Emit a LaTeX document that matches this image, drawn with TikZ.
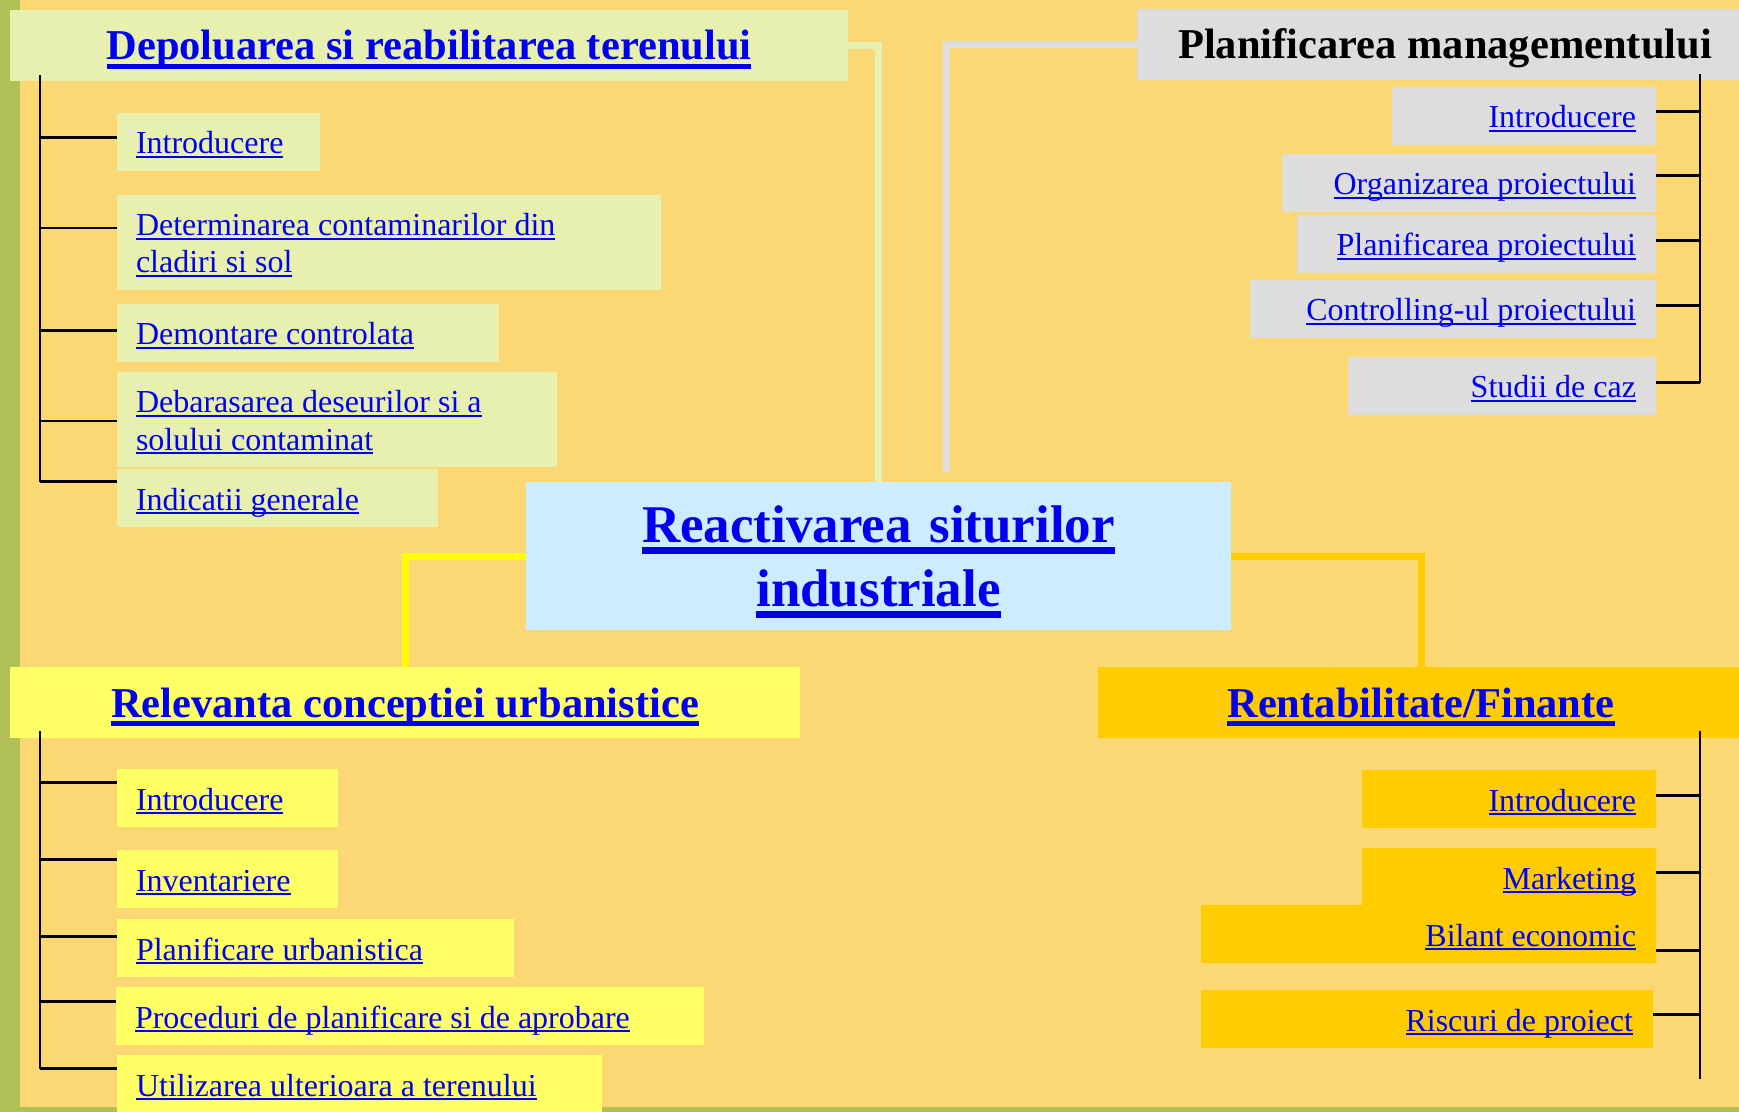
\documentclass[tikz,border=0pt]{standalone}
\usepackage{fontspec}
\setmainfont{Liberation Serif}
\usepackage{xcolor}

\definecolor{slidebg}{HTML}{FCD874}
\definecolor{slidebar}{HTML}{B0C054}
\definecolor{depfill}{HTML}{E8F0B0}
\definecolor{planfill}{HTML}{DDDDDD}
\definecolor{centerfill}{HTML}{CCECFF}
\definecolor{relfill}{HTML}{FFFF66}
\definecolor{relline}{HTML}{FFFF00}
\definecolor{rentfill}{HTML}{FFCC00}
\definecolor{linkblue}{HTML}{0000EE}

\newcommand{\lnk}[1]{\leavevmode\setbox0=\hbox{\spaceskip=0.25em\relax #1}\rlap{\rule[-0.125em]{\wd0}{0.07em}}\box0}
\newcommand{\blnk}[1]{\leavevmode\setbox0=\hbox{#1}\rlap{\rule[-0.22em]{\wd0}{0.12em}}\box0}

\begin{document}
\begin{tikzpicture}[x=0.5pt, y=-0.5pt,
    every node/.style={
    rectangle,
    inner sep=0pt,
    outer sep=0pt,
    text=linkblue
},
    title/.style={font=\fontsize{21.25}{25}\selectfont\bfseries, text height=25pt, text depth=10.5pt, anchor=base west},
    leaf/.style={font=\fontsize{16}{18.5}\selectfont, text height=20.5pt, text depth=8.5pt},
    leafl/.style={leaf, anchor=base west, align=left, inner xsep=9.5pt, text width=#1},
    leafr/.style={leaf, anchor=base east, align=right, inner xsep=10pt, text width=#1},
    branch/.style={line width=1.1pt, black},
    wire/.style={line width=3.5pt}
]

    \useasboundingbox (0,0) rectangle (1739,1112);
    \fill[slidebg] (0,0) rectangle (1739,1112);
    \fill[slidebar] (0,0) rectangle (20,1112);
    \fill[slidebar] (0,1107) rectangle (1739,1112);



    \node (center) [fill=centerfill, anchor=base west, text width=352.5pt, align=center,
        font=\fontsize{26.5}{32}\selectfont\bfseries, text height=30pt, text depth=44pt] at (526, 542)
    {
        \blnk{Reactivarea siturilor}\\\blnk{industriale}
    };



    \node (dep_title) [title, fill=depfill, minimum width=419pt] at (10, 60)
    {
        \blnk{Depoluarea si reabilitarea terenului}
    };

    \node (dep_intro) [leafl=82.5pt, fill=depfill] at (117, 154)
    {
        \lnk{Introducere}
    };

    \node (dep_contam) [leafl=253pt, fill=depfill, text depth=27pt] at (117, 236)
    {
        \lnk{Determinarea contaminarilor din}\\\lnk{cladiri si sol}
    };

    \node (dep_demont) [leafl=172pt, fill=depfill] at (117, 345)
    {
        \lnk{Demontare controlata}
    };

    \node (dep_debar) [leafl=201pt, fill=depfill, text depth=27pt] at (117, 413)
    {
        \lnk{Debarasarea deseurilor si a}\\\lnk{solului contaminat}
    };

    \node (dep_indic) [leafl=141.5pt, fill=depfill] at (117, 510)
    {
        \lnk{Indicatii generale}
    };



    \node (plan_title) [title, fill=planfill, minimum width=308pt, text=black] at (1137, 59)
    {
        Planificarea managementului
    };

    \node (plan_intro) [leafr=112pt, fill=planfill] at (1656, 128)
    {
        \lnk{Introducere}
    };

    \node (plan_org) [leafr=167pt, fill=planfill] at (1656, 195)
    {
        \lnk{Organizarea proiectului}
    };

    \node (plan_plan) [leafr=159.5pt, fill=planfill] at (1656, 256)
    {
        \lnk{Planificarea proiectului}
    };

    \node (plan_ctrl) [leafr=183pt, fill=planfill] at (1656, 321)
    {
        \lnk{Controlling-ul proiectului}
    };

    \node (plan_caz) [leafr=134pt, fill=planfill] at (1656, 398)
    {
        \lnk{Studii de caz}
    };



    \node (rel_title) [title, fill=relfill, minimum width=395pt] at (10, 717)
    {
        \blnk{Relevanta conceptiei urbanistice}
    };

    \node (rel_intro) [leafl=91.5pt, fill=relfill] at (117, 810)
    {
        \lnk{Introducere}
    };

    \node (rel_invent) [leafl=91.5pt, fill=relfill] at (117, 891)
    {
        \lnk{Inventariere}
    };

    \node (rel_urb) [leafl=179.5pt, fill=relfill] at (117, 960)
    {
        \lnk{Planificare urbanistica}
    };

    \node (rel_proc) [leafl=275pt, fill=relfill] at (116, 1028)
    {
        \lnk{Proceduri de planificare si de aprobare}
    };

    \node (rel_util) [leafl=223.5pt, fill=relfill] at (117, 1096)
    {
        \lnk{Utilizarea ulterioara a terenului}
    };



    \node (rent_title) [title, fill=rentfill, minimum width=323pt] at (1098, 717)
    {
        \blnk{Rentabilitate/Finante}
    };

    \node (rent_intro) [leafr=127pt, fill=rentfill] at (1656, 811)
    {
        \lnk{Introducere}
    };

    \node (rent_mark) [leafr=127pt, fill=rentfill] at (1656, 889)
    {
        \lnk{Marketing}
    };

    \node (rent_bilant) [leafr=207.5pt, fill=rentfill] at (1656, 946)
    {
        \lnk{Bilant economic}
    };

    \node (rent_risc) [leafr=206pt, fill=rentfill] at (1653, 1031)
    {
        \lnk{Riscuri de proiect}
    };


    \draw[wire, depfill] (dep_title.east) -| (center.north);
    \draw[wire, planfill, shorten >=5pt] (plan_title.west) -| ([xshift=33.75pt]center.north);
    \draw[wire, relline] (center.west) -| (rel_title.north);
    \draw[wire, rentfill] (center.east) -| (rent_title.north);


    \coordinate (dep_end) at (40, 482);
    \coordinate (plan_end) at (1700, 383);
    \coordinate (rel_end) at (40, 1069);
    \coordinate (rent_end) at (1700, 1079);

    \draw[branch] ([yshift=3pt]dep_title.south -| dep_end) -- (dep_end);
    \draw[branch] ([yshift=3pt]plan_title.south -| plan_end) -- (plan_end);
    \draw[branch] ([yshift=3.5pt]rel_title.south -| rel_end) -- (rel_end);
    \draw[branch] ([yshift=3.5pt]rent_title.south -| rent_end) -- (rent_end);

    \foreach \n/\dy in {dep_intro/2.25, dep_contam/7.25, dep_demont/1.25, dep_debar/-0.75, dep_indic/8.25}
        \draw[branch] ([yshift=\dy pt]\n.west) -- ([yshift=\dy pt]\n.west -| dep_end);

    \foreach \n/\dy in {rel_intro/7.75, rel_invent/9.75, rel_urb/5.75, rel_proc/7.25, rel_util/7.75}
        \draw[branch] ([yshift=\dy pt]\n.west) -- ([yshift=\dy pt]\n.west -| rel_end);

    \foreach \n/\dy in {plan_intro/2.25, plan_org/3.75, plan_plan/1.75, plan_ctrl/1.75, plan_caz/1.75}
        \draw[branch] ([yshift=\dy pt]\n.east) -- ([yshift=\dy pt]\n.east -| plan_end);

    \foreach \n/\dy in {rent_intro/1.75, rent_mark/2.25, rent_bilant/-8.25, rent_risc/2.25}
        \draw[branch] ([yshift=\dy pt]\n.east) -- ([yshift=\dy pt]\n.east -| rent_end);


\end{tikzpicture}
\end{document}
